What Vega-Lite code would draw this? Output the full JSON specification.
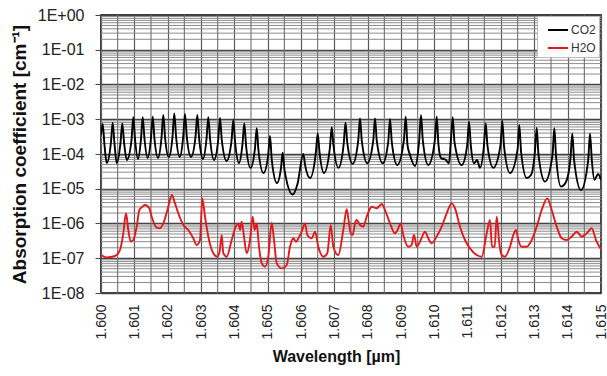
{
  "$schema": "https://vega.github.io/schema/vega-lite/v6.json",
  "width": 500,
  "height": 278,
  "autosize": {"type": "none"},
  "padding": {"left": 101, "top": 15, "right": 6, "bottom": 83},
  "background": "white",
  "config": {
    "font": "Liberation Sans",
    "view": {"stroke": "black", "strokeWidth": 1.5},
    "axis": {"domain": false}
  },
  "datasets": {
    "ygrid": [
      {"coef": 2e-8}, {"coef": 3e-8}, {"coef": 4e-8}, {"coef": 5e-8}, {"coef": 6e-8}, {"coef": 7e-8}, {"coef": 8e-8}, {"coef": 9e-8},
      {"coef": 2e-7}, {"coef": 3e-7}, {"coef": 4e-7}, {"coef": 5e-7}, {"coef": 6e-7}, {"coef": 7e-7}, {"coef": 8e-7}, {"coef": 9e-7},
      {"coef": 2e-6}, {"coef": 3e-6}, {"coef": 4e-6}, {"coef": 5e-6}, {"coef": 6e-6}, {"coef": 7e-6}, {"coef": 8e-6}, {"coef": 9e-6},
      {"coef": 2e-5}, {"coef": 3e-5}, {"coef": 4e-5}, {"coef": 5e-5}, {"coef": 6e-5}, {"coef": 7e-5}, {"coef": 8e-5}, {"coef": 9e-5},
      {"coef": 2e-4}, {"coef": 3e-4}, {"coef": 4e-4}, {"coef": 5e-4}, {"coef": 6e-4}, {"coef": 7e-4}, {"coef": 8e-4}, {"coef": 9e-4},
      {"coef": 2e-3}, {"coef": 3e-3}, {"coef": 4e-3}, {"coef": 5e-3}, {"coef": 6e-3}, {"coef": 7e-3}, {"coef": 8e-3}, {"coef": 9e-3},
      {"coef": 2e-2}, {"coef": 3e-2}, {"coef": 4e-2}, {"coef": 5e-2}, {"coef": 6e-2}, {"coef": 7e-2}, {"coef": 8e-2}, {"coef": 9e-2},
      {"coef": 2e-1}, {"coef": 3e-1}, {"coef": 4e-1}, {"coef": 5e-1}, {"coef": 6e-1}, {"coef": 7e-1}, {"coef": 8e-1}, {"coef": 9e-1}
    ],
    "xgrid": [
      {"wavelength": 1.6005}, {"wavelength": 1.6015}, {"wavelength": 1.6025}, {"wavelength": 1.6035}, {"wavelength": 1.6045},
      {"wavelength": 1.6055}, {"wavelength": 1.6065}, {"wavelength": 1.6075}, {"wavelength": 1.6085}, {"wavelength": 1.6095},
      {"wavelength": 1.6105}, {"wavelength": 1.6115}, {"wavelength": 1.6125}, {"wavelength": 1.6135}, {"wavelength": 1.6145}
    ],
    "spectra": [
      {"gas": "CO2", "wavelength": 1.600000, "coef": 3.5e-4},
      {"gas": "CO2", "wavelength": 1.600051, "coef": 7.3e-4},
      {"gas": "CO2", "wavelength": 1.600105, "coef": 1.8e-4},
      {"gas": "CO2", "wavelength": 1.600171, "coef": 5.5e-5},
      {"gas": "CO2", "wavelength": 1.600297, "coef": 2.1e-4},
      {"gas": "CO2", "wavelength": 1.600351, "coef": 7.9e-4},
      {"gas": "CO2", "wavelength": 1.600405, "coef": 1.95e-4},
      {"gas": "CO2", "wavelength": 1.600471, "coef": 5.5e-5},
      {"gas": "CO2", "wavelength": 1.600585, "coef": 2.1e-4},
      {"gas": "CO2", "wavelength": 1.600639, "coef": 7.6e-4},
      {"gas": "CO2", "wavelength": 1.600693, "coef": 2.1e-4},
      {"gas": "CO2", "wavelength": 1.600774, "coef": 6.7e-5},
      {"gas": "CO2", "wavelength": 1.600915, "coef": 2.5e-4},
      {"gas": "CO2", "wavelength": 1.600969, "coef": 1.14e-3},
      {"gas": "CO2", "wavelength": 1.601023, "coef": 2.5e-4},
      {"gas": "CO2", "wavelength": 1.601110, "coef": 7.2e-5},
      {"gas": "CO2", "wavelength": 1.601197, "coef": 2.5e-4},
      {"gas": "CO2", "wavelength": 1.601251, "coef": 1.14e-3},
      {"gas": "CO2", "wavelength": 1.601305, "coef": 2.7e-4},
      {"gas": "CO2", "wavelength": 1.601398, "coef": 7.7e-5},
      {"gas": "CO2", "wavelength": 1.601497, "coef": 2.7e-4},
      {"gas": "CO2", "wavelength": 1.601551, "coef": 1.18e-3},
      {"gas": "CO2", "wavelength": 1.601605, "coef": 2.7e-4},
      {"gas": "CO2", "wavelength": 1.601710, "coef": 7.7e-5},
      {"gas": "CO2", "wavelength": 1.601815, "coef": 2.9e-4},
      {"gas": "CO2", "wavelength": 1.601869, "coef": 1.32e-3},
      {"gas": "CO2", "wavelength": 1.601923, "coef": 2.9e-4},
      {"gas": "CO2", "wavelength": 1.602034, "coef": 8.2e-5},
      {"gas": "CO2", "wavelength": 1.602145, "coef": 3.1e-4},
      {"gas": "CO2", "wavelength": 1.602199, "coef": 1.48e-3},
      {"gas": "CO2", "wavelength": 1.602253, "coef": 3.1e-4},
      {"gas": "CO2", "wavelength": 1.602361, "coef": 8.2e-5},
      {"gas": "CO2", "wavelength": 1.602466, "coef": 3.1e-4},
      {"gas": "CO2", "wavelength": 1.602520, "coef": 1.42e-3},
      {"gas": "CO2", "wavelength": 1.602574, "coef": 3.1e-4},
      {"gas": "CO2", "wavelength": 1.602700, "coef": 8.2e-5},
      {"gas": "CO2", "wavelength": 1.602835, "coef": 3.1e-4},
      {"gas": "CO2", "wavelength": 1.602889, "coef": 1.32e-3},
      {"gas": "CO2", "wavelength": 1.602943, "coef": 2.9e-4},
      {"gas": "CO2", "wavelength": 1.603060, "coef": 7.2e-5},
      {"gas": "CO2", "wavelength": 1.603165, "coef": 2.7e-4},
      {"gas": "CO2", "wavelength": 1.603219, "coef": 1.14e-3},
      {"gas": "CO2", "wavelength": 1.603273, "coef": 2.7e-4},
      {"gas": "CO2", "wavelength": 1.603390, "coef": 6.7e-5},
      {"gas": "CO2", "wavelength": 1.603516, "coef": 2.5e-4},
      {"gas": "CO2", "wavelength": 1.603570, "coef": 1.09e-3},
      {"gas": "CO2", "wavelength": 1.603624, "coef": 2.5e-4},
      {"gas": "CO2", "wavelength": 1.603768, "coef": 6.3e-5},
      {"gas": "CO2", "wavelength": 1.603915, "coef": 2.37e-4},
      {"gas": "CO2", "wavelength": 1.603969, "coef": 9.5e-4},
      {"gas": "CO2", "wavelength": 1.604023, "coef": 2.2e-4},
      {"gas": "CO2", "wavelength": 1.604140, "coef": 5.5e-5},
      {"gas": "CO2", "wavelength": 1.604245, "coef": 1.95e-4},
      {"gas": "CO2", "wavelength": 1.604299, "coef": 7.6e-4},
      {"gas": "CO2", "wavelength": 1.604353, "coef": 1.7e-4},
      {"gas": "CO2", "wavelength": 1.604485, "coef": 4.0e-5},
      {"gas": "CO2", "wavelength": 1.604617, "coef": 1.39e-4},
      {"gas": "CO2", "wavelength": 1.604671, "coef": 5.5e-4},
      {"gas": "CO2", "wavelength": 1.604725, "coef": 1.22e-4},
      {"gas": "CO2", "wavelength": 1.604875, "coef": 2.84e-5},
      {"gas": "CO2", "wavelength": 1.605016, "coef": 9.3e-5},
      {"gas": "CO2", "wavelength": 1.605070, "coef": 3.3e-4},
      {"gas": "CO2", "wavelength": 1.605124, "coef": 6.7e-5},
      {"gas": "CO2", "wavelength": 1.605280, "coef": 1.46e-5},
      {"gas": "CO2", "wavelength": 1.605400, "coef": 4.0e-5},
      {"gas": "CO2", "wavelength": 1.605451, "coef": 1.09e-4},
      {"gas": "CO2", "wavelength": 1.605505, "coef": 3.5e-5},
      {"gas": "CO2", "wavelength": 1.605751, "coef": 6.8e-6},
      {"gas": "CO2", "wavelength": 1.605895, "coef": 1.37e-5},
      {"gas": "CO2", "wavelength": 1.606069, "coef": 1.0e-4},
      {"gas": "CO2", "wavelength": 1.606123, "coef": 4.8e-5},
      {"gas": "CO2", "wavelength": 1.606270, "coef": 2.04e-5},
      {"gas": "CO2", "wavelength": 1.606447, "coef": 1.14e-4},
      {"gas": "CO2", "wavelength": 1.606501, "coef": 3.9e-4},
      {"gas": "CO2", "wavelength": 1.606555, "coef": 1.14e-4},
      {"gas": "CO2", "wavelength": 1.606690, "coef": 2.84e-5},
      {"gas": "CO2", "wavelength": 1.606867, "coef": 1.49e-4},
      {"gas": "CO2", "wavelength": 1.606921, "coef": 5.9e-4},
      {"gas": "CO2", "wavelength": 1.606975, "coef": 1.7e-4},
      {"gas": "CO2", "wavelength": 1.607125, "coef": 4.0e-5},
      {"gas": "CO2", "wavelength": 1.607281, "coef": 1.95e-4},
      {"gas": "CO2", "wavelength": 1.607335, "coef": 7.9e-4},
      {"gas": "CO2", "wavelength": 1.607389, "coef": 2.1e-4},
      {"gas": "CO2", "wavelength": 1.607551, "coef": 5.2e-5},
      {"gas": "CO2", "wavelength": 1.607716, "coef": 2.37e-4},
      {"gas": "CO2", "wavelength": 1.607770, "coef": 1.06e-3},
      {"gas": "CO2", "wavelength": 1.607824, "coef": 2.37e-4},
      {"gas": "CO2", "wavelength": 1.607989, "coef": 5.4e-5},
      {"gas": "CO2", "wavelength": 1.608166, "coef": 2.37e-4},
      {"gas": "CO2", "wavelength": 1.608220, "coef": 1.06e-3},
      {"gas": "CO2", "wavelength": 1.608274, "coef": 2.37e-4},
      {"gas": "CO2", "wavelength": 1.608451, "coef": 5.4e-5},
      {"gas": "CO2", "wavelength": 1.608616, "coef": 2.2e-4},
      {"gas": "CO2", "wavelength": 1.608670, "coef": 1.02e-3},
      {"gas": "CO2", "wavelength": 1.608724, "coef": 2.2e-4},
      {"gas": "CO2", "wavelength": 1.608889, "coef": 4.8e-5},
      {"gas": "CO2", "wavelength": 1.609087, "coef": 2.5e-4},
      {"gas": "CO2", "wavelength": 1.609141, "coef": 1.18e-3},
      {"gas": "CO2", "wavelength": 1.609195, "coef": 1.8e-4},
      {"gas": "CO2", "wavelength": 1.609270, "coef": 9.4e-5},
      {"gas": "CO2", "wavelength": 1.609420, "coef": 4.5e-5},
      {"gas": "CO2", "wavelength": 1.609546, "coef": 2.5e-4},
      {"gas": "CO2", "wavelength": 1.609600, "coef": 1.32e-3},
      {"gas": "CO2", "wavelength": 1.609654, "coef": 2.5e-4},
      {"gas": "CO2", "wavelength": 1.609819, "coef": 4.8e-5},
      {"gas": "CO2", "wavelength": 1.610017, "coef": 2.5e-4},
      {"gas": "CO2", "wavelength": 1.610071, "coef": 1.18e-3},
      {"gas": "CO2", "wavelength": 1.610125, "coef": 1.8e-4},
      {"gas": "CO2", "wavelength": 1.610200, "coef": 7.7e-5},
      {"gas": "CO2", "wavelength": 1.610350, "coef": 6.7e-5},
      {"gas": "CO2", "wavelength": 1.610440, "coef": 5.4e-5},
      {"gas": "CO2", "wavelength": 1.610497, "coef": 2.5e-4},
      {"gas": "CO2", "wavelength": 1.610551, "coef": 1.14e-3},
      {"gas": "CO2", "wavelength": 1.610605, "coef": 2.2e-4},
      {"gas": "CO2", "wavelength": 1.610821, "coef": 4.8e-5},
      {"gas": "CO2", "wavelength": 1.610986, "coef": 1.8e-4},
      {"gas": "CO2", "wavelength": 1.611040, "coef": 8.5e-4},
      {"gas": "CO2", "wavelength": 1.611094, "coef": 1.8e-4},
      {"gas": "CO2", "wavelength": 1.611190, "coef": 5.4e-5},
      {"gas": "CO2", "wavelength": 1.611280, "coef": 6.7e-5},
      {"gas": "CO2", "wavelength": 1.611370, "coef": 4.0e-5},
      {"gas": "CO2", "wavelength": 1.611487, "coef": 1.7e-4},
      {"gas": "CO2", "wavelength": 1.611541, "coef": 7.6e-4},
      {"gas": "CO2", "wavelength": 1.611595, "coef": 1.7e-4},
      {"gas": "CO2", "wavelength": 1.611769, "coef": 4.0e-5},
      {"gas": "CO2", "wavelength": 1.611985, "coef": 1.8e-4},
      {"gas": "CO2", "wavelength": 1.612039, "coef": 9.1e-4},
      {"gas": "CO2", "wavelength": 1.612093, "coef": 1.6e-4},
      {"gas": "CO2", "wavelength": 1.612270, "coef": 2.84e-5},
      {"gas": "CO2", "wavelength": 1.612495, "coef": 1.3e-4},
      {"gas": "CO2", "wavelength": 1.612549, "coef": 6.8e-4},
      {"gas": "CO2", "wavelength": 1.612603, "coef": 1.14e-4},
      {"gas": "CO2", "wavelength": 1.612771, "coef": 2.04e-5},
      {"gas": "CO2", "wavelength": 1.612900, "coef": 2.5e-5},
      {"gas": "CO2", "wavelength": 1.613017, "coef": 1.14e-4},
      {"gas": "CO2", "wavelength": 1.613071, "coef": 5.7e-4},
      {"gas": "CO2", "wavelength": 1.613125, "coef": 9.4e-5},
      {"gas": "CO2", "wavelength": 1.613320, "coef": 1.6e-5},
      {"gas": "CO2", "wavelength": 1.613545, "coef": 9.4e-5},
      {"gas": "CO2", "wavelength": 1.613599, "coef": 5.5e-4},
      {"gas": "CO2", "wavelength": 1.613653, "coef": 8.2e-5},
      {"gas": "CO2", "wavelength": 1.613800, "coef": 1.15e-5},
      {"gas": "CO2", "wavelength": 1.613950, "coef": 1.56e-5},
      {"gas": "CO2", "wavelength": 1.614085, "coef": 7.7e-5},
      {"gas": "CO2", "wavelength": 1.614139, "coef": 3.9e-4},
      {"gas": "CO2", "wavelength": 1.614193, "coef": 6.7e-5},
      {"gas": "CO2", "wavelength": 1.614400, "coef": 9.2e-6},
      {"gas": "CO2", "wavelength": 1.614616, "coef": 6.7e-5},
      {"gas": "CO2", "wavelength": 1.614670, "coef": 3.9e-4},
      {"gas": "CO2", "wavelength": 1.614724, "coef": 6.7e-5},
      {"gas": "CO2", "wavelength": 1.614805, "coef": 1.8e-5},
      {"gas": "CO2", "wavelength": 1.614910, "coef": 2.65e-5},
      {"gas": "CO2", "wavelength": 1.615000, "coef": 1.8e-5},
      {"gas": "H2O", "wavelength": 1.600000, "coef": 1.24e-7},
      {"gas": "H2O", "wavelength": 1.600171, "coef": 1.06e-7},
      {"gas": "H2O", "wavelength": 1.600420, "coef": 1.16e-7},
      {"gas": "H2O", "wavelength": 1.600570, "coef": 1.73e-7},
      {"gas": "H2O", "wavelength": 1.600669, "coef": 5.2e-7},
      {"gas": "H2O", "wavelength": 1.600750, "coef": 1.97e-6},
      {"gas": "H2O", "wavelength": 1.600819, "coef": 6.5e-7},
      {"gas": "H2O", "wavelength": 1.600891, "coef": 3.0e-7},
      {"gas": "H2O", "wavelength": 1.600969, "coef": 3.35e-7},
      {"gas": "H2O", "wavelength": 1.601071, "coef": 8.1e-7},
      {"gas": "H2O", "wavelength": 1.601149, "coef": 2.44e-6},
      {"gas": "H2O", "wavelength": 1.601221, "coef": 2.92e-6},
      {"gas": "H2O", "wavelength": 1.601320, "coef": 3.4e-6},
      {"gas": "H2O", "wavelength": 1.601449, "coef": 2.74e-6},
      {"gas": "H2O", "wavelength": 1.601521, "coef": 1.57e-6},
      {"gas": "H2O", "wavelength": 1.601671, "coef": 7.6e-7},
      {"gas": "H2O", "wavelength": 1.601770, "coef": 7.3e-7},
      {"gas": "H2O", "wavelength": 1.601890, "coef": 1.13e-6},
      {"gas": "H2O", "wavelength": 1.602019, "coef": 3.04e-6},
      {"gas": "H2O", "wavelength": 1.602121, "coef": 6.6e-6},
      {"gas": "H2O", "wavelength": 1.602220, "coef": 3.8e-6},
      {"gas": "H2O", "wavelength": 1.602319, "coef": 1.97e-6},
      {"gas": "H2O", "wavelength": 1.602469, "coef": 9.05e-7},
      {"gas": "H2O", "wavelength": 1.602619, "coef": 6.5e-7},
      {"gas": "H2O", "wavelength": 1.602769, "coef": 3.75e-7},
      {"gas": "H2O", "wavelength": 1.602871, "coef": 2.4e-7},
      {"gas": "H2O", "wavelength": 1.602970, "coef": 3.35e-7},
      {"gas": "H2O", "wavelength": 1.603039, "coef": 5.3e-6},
      {"gas": "H2O", "wavelength": 1.603120, "coef": 1.57e-6},
      {"gas": "H2O", "wavelength": 1.603219, "coef": 4.2e-7},
      {"gas": "H2O", "wavelength": 1.603369, "coef": 1.39e-7},
      {"gas": "H2O", "wavelength": 1.603489, "coef": 1.11e-7},
      {"gas": "H2O", "wavelength": 1.603555, "coef": 1.51e-7},
      {"gas": "H2O", "wavelength": 1.603621, "coef": 4.67e-7},
      {"gas": "H2O", "wavelength": 1.603669, "coef": 1.39e-7},
      {"gas": "H2O", "wavelength": 1.603771, "coef": 1.11e-7},
      {"gas": "H2O", "wavelength": 1.603921, "coef": 3.35e-7},
      {"gas": "H2O", "wavelength": 1.604041, "coef": 8.1e-7},
      {"gas": "H2O", "wavelength": 1.604119, "coef": 1.01e-6},
      {"gas": "H2O", "wavelength": 1.604170, "coef": 6.5e-7},
      {"gas": "H2O", "wavelength": 1.604221, "coef": 1.13e-6},
      {"gas": "H2O", "wavelength": 1.604290, "coef": 4.2e-7},
      {"gas": "H2O", "wavelength": 1.604371, "coef": 1.39e-7},
      {"gas": "H2O", "wavelength": 1.604470, "coef": 3.35e-7},
      {"gas": "H2O", "wavelength": 1.604551, "coef": 1.57e-6},
      {"gas": "H2O", "wavelength": 1.604611, "coef": 6.5e-7},
      {"gas": "H2O", "wavelength": 1.604671, "coef": 1.01e-6},
      {"gas": "H2O", "wavelength": 1.604740, "coef": 2.15e-7},
      {"gas": "H2O", "wavelength": 1.604821, "coef": 7.2e-8},
      {"gas": "H2O", "wavelength": 1.604920, "coef": 5.7e-8},
      {"gas": "H2O", "wavelength": 1.605019, "coef": 1.11e-7},
      {"gas": "H2O", "wavelength": 1.605121, "coef": 1.05e-6},
      {"gas": "H2O", "wavelength": 1.605190, "coef": 3.35e-7},
      {"gas": "H2O", "wavelength": 1.605271, "coef": 7.2e-8},
      {"gas": "H2O", "wavelength": 1.605421, "coef": 5.1e-8},
      {"gas": "H2O", "wavelength": 1.605571, "coef": 6.4e-8},
      {"gas": "H2O", "wavelength": 1.605670, "coef": 2.15e-7},
      {"gas": "H2O", "wavelength": 1.605769, "coef": 3.75e-7},
      {"gas": "H2O", "wavelength": 1.605850, "coef": 3.0e-7},
      {"gas": "H2O", "wavelength": 1.605949, "coef": 4.2e-7},
      {"gas": "H2O", "wavelength": 1.606021, "coef": 5.8e-7},
      {"gas": "H2O", "wavelength": 1.606120, "coef": 1.01e-6},
      {"gas": "H2O", "wavelength": 1.606189, "coef": 4.67e-7},
      {"gas": "H2O", "wavelength": 1.606321, "coef": 3.75e-7},
      {"gas": "H2O", "wavelength": 1.606420, "coef": 5.8e-7},
      {"gas": "H2O", "wavelength": 1.606519, "coef": 2.15e-7},
      {"gas": "H2O", "wavelength": 1.606669, "coef": 1.11e-7},
      {"gas": "H2O", "wavelength": 1.606789, "coef": 1.39e-7},
      {"gas": "H2O", "wavelength": 1.606891, "coef": 9.05e-7},
      {"gas": "H2O", "wavelength": 1.606969, "coef": 2.15e-7},
      {"gas": "H2O", "wavelength": 1.607119, "coef": 1.24e-7},
      {"gas": "H2O", "wavelength": 1.607269, "coef": 6.5e-7},
      {"gas": "H2O", "wavelength": 1.607371, "coef": 2.56e-6},
      {"gas": "H2O", "wavelength": 1.607425, "coef": 1.26e-6},
      {"gas": "H2O", "wavelength": 1.607491, "coef": 5.2e-7},
      {"gas": "H2O", "wavelength": 1.607551, "coef": 4.67e-7},
      {"gas": "H2O", "wavelength": 1.607620, "coef": 1.01e-6},
      {"gas": "H2O", "wavelength": 1.607671, "coef": 1.26e-6},
      {"gas": "H2O", "wavelength": 1.607770, "coef": 9.05e-7},
      {"gas": "H2O", "wavelength": 1.607869, "coef": 8.1e-7},
      {"gas": "H2O", "wavelength": 1.607971, "coef": 1.57e-6},
      {"gas": "H2O", "wavelength": 1.608121, "coef": 3.04e-6},
      {"gas": "H2O", "wavelength": 1.608271, "coef": 2.74e-6},
      {"gas": "H2O", "wavelength": 1.608421, "coef": 3.64e-6},
      {"gas": "H2O", "wavelength": 1.608520, "coef": 2.44e-6},
      {"gas": "H2O", "wavelength": 1.608670, "coef": 1.01e-6},
      {"gas": "H2O", "wavelength": 1.608820, "coef": 5.2e-7},
      {"gas": "H2O", "wavelength": 1.608895, "coef": 6.5e-7},
      {"gas": "H2O", "wavelength": 1.608991, "coef": 1.01e-6},
      {"gas": "H2O", "wavelength": 1.609069, "coef": 4.67e-7},
      {"gas": "H2O", "wavelength": 1.609219, "coef": 2.15e-7},
      {"gas": "H2O", "wavelength": 1.609315, "coef": 2.4e-7},
      {"gas": "H2O", "wavelength": 1.609390, "coef": 4.67e-7},
      {"gas": "H2O", "wavelength": 1.609471, "coef": 2.15e-7},
      {"gas": "H2O", "wavelength": 1.609591, "coef": 3.35e-7},
      {"gas": "H2O", "wavelength": 1.609720, "coef": 5.8e-7},
      {"gas": "H2O", "wavelength": 1.609819, "coef": 3.75e-7},
      {"gas": "H2O", "wavelength": 1.609921, "coef": 2.7e-7},
      {"gas": "H2O", "wavelength": 1.610071, "coef": 4.2e-7},
      {"gas": "H2O", "wavelength": 1.610221, "coef": 8.1e-7},
      {"gas": "H2O", "wavelength": 1.610371, "coef": 1.97e-6},
      {"gas": "H2O", "wavelength": 1.610521, "coef": 3.8e-6},
      {"gas": "H2O", "wavelength": 1.610620, "coef": 2.74e-6},
      {"gas": "H2O", "wavelength": 1.610770, "coef": 8.1e-7},
      {"gas": "H2O", "wavelength": 1.610920, "coef": 3.35e-7},
      {"gas": "H2O", "wavelength": 1.611070, "coef": 1.93e-7},
      {"gas": "H2O", "wavelength": 1.611271, "coef": 1.24e-7},
      {"gas": "H2O", "wavelength": 1.611421, "coef": 1.11e-7},
      {"gas": "H2O", "wavelength": 1.611571, "coef": 5.2e-7},
      {"gas": "H2O", "wavelength": 1.611670, "coef": 1.26e-6},
      {"gas": "H2O", "wavelength": 1.611730, "coef": 2.15e-7},
      {"gas": "H2O", "wavelength": 1.611811, "coef": 2.15e-7},
      {"gas": "H2O", "wavelength": 1.611871, "coef": 1.57e-6},
      {"gas": "H2O", "wavelength": 1.611949, "coef": 2.7e-7},
      {"gas": "H2O", "wavelength": 1.612021, "coef": 1.24e-7},
      {"gas": "H2O", "wavelength": 1.612120, "coef": 1.11e-7},
      {"gas": "H2O", "wavelength": 1.612270, "coef": 2.15e-7},
      {"gas": "H2O", "wavelength": 1.612369, "coef": 4.67e-7},
      {"gas": "H2O", "wavelength": 1.612450, "coef": 6.5e-7},
      {"gas": "H2O", "wavelength": 1.612519, "coef": 3.35e-7},
      {"gas": "H2O", "wavelength": 1.612621, "coef": 2.15e-7},
      {"gas": "H2O", "wavelength": 1.612771, "coef": 2.15e-7},
      {"gas": "H2O", "wavelength": 1.612921, "coef": 3.35e-7},
      {"gas": "H2O", "wavelength": 1.613071, "coef": 8.1e-7},
      {"gas": "H2O", "wavelength": 1.613221, "coef": 2.44e-6},
      {"gas": "H2O", "wavelength": 1.613389, "coef": 5.3e-6},
      {"gas": "H2O", "wavelength": 1.613521, "coef": 2.44e-6},
      {"gas": "H2O", "wavelength": 1.613671, "coef": 8.1e-7},
      {"gas": "H2O", "wavelength": 1.613821, "coef": 3.75e-7},
      {"gas": "H2O", "wavelength": 1.613971, "coef": 3.35e-7},
      {"gas": "H2O", "wavelength": 1.614121, "coef": 4.2e-7},
      {"gas": "H2O", "wavelength": 1.614271, "coef": 5.8e-7},
      {"gas": "H2O", "wavelength": 1.614421, "coef": 4.2e-7},
      {"gas": "H2O", "wavelength": 1.614571, "coef": 5.2e-7},
      {"gas": "H2O", "wavelength": 1.614721, "coef": 7.3e-7},
      {"gas": "H2O", "wavelength": 1.614850, "coef": 3.35e-7},
      {"gas": "H2O", "wavelength": 1.615000, "coef": 1.81e-7}
    ]
  },
  "layer": [
    {
      "data": {"name": "ygrid"},
      "mark": {"type": "rule", "color": "#8c8c8c", "strokeWidth": 1},
      "encoding": {
        "y": {
          "field": "coef", "type": "quantitative",
          "scale": {"type": "log", "domain": [1e-8, 1], "nice": false},
          "title": "Absorption coefficient [cm⁻¹]",
          "axis": {
            "values": [1e-8, 1e-7, 1e-6, 1e-5, 1e-4, 1e-3, 1e-2, 1e-1, 1],
            "labelExpr": "'1E' + (round(log(datum.value)/LN10) >= 0 ? '+' : '-') + (abs(round(log(datum.value)/LN10)) < 10 ? '0' : '') + abs(round(log(datum.value)/LN10))",
            "labelFontSize": 16, "labelColor": "#222", "labelPadding": 11, "tickSize": 6, "tickColor": "#444",
            "grid": true, "gridColor": "#444444", "gridWidth": 1.4,
            "titleFontSize": 19, "titleFontWeight": "bold", "titleColor": "#111", "titlePadding": 8,
            "labelFlush": false, "labelOverlap": false
          }
        }
      }
    },
    {
      "data": {"name": "xgrid"},
      "mark": {"type": "rule", "color": "#6e6e6e", "strokeWidth": 1.1},
      "encoding": {
        "x": {
          "field": "wavelength", "type": "quantitative",
          "scale": {"domain": [1.6, 1.615], "nice": false, "zero": false},
          "title": "Wavelength [µm]",
          "axis": {
            "values": [1.6, 1.601, 1.602, 1.603, 1.604, 1.605, 1.606, 1.607, 1.608, 1.609, 1.61, 1.611, 1.612, 1.613, 1.614, 1.615],
            "format": ".3f", "labelAngle": 270, "labelAlign": "right", "labelBaseline": "middle",
            "labelFontSize": 14, "labelColor": "#222", "labelPadding": 11, "ticks": false,
            "grid": true, "gridColor": "#5a5a5a", "gridWidth": 1.2,
            "titleFontSize": 16, "titleFontWeight": "bold", "titleColor": "#111", "titlePadding": 9, "titleX": 235,
            "labelFlush": false, "labelOverlap": false
          }
        }
      }
    },
    {
      "data": {"name": "spectra"},
      "mark": {"type": "line", "strokeWidth": 1.9, "clip": true, "interpolate": "monotone"},
      "encoding": {
        "x": {
          "field": "wavelength", "type": "quantitative",
          "scale": {"domain": [1.6, 1.615], "nice": false, "zero": false},
          "title": "Wavelength [µm]",
          "axis": {
            "values": [1.6, 1.601, 1.602, 1.603, 1.604, 1.605, 1.606, 1.607, 1.608, 1.609, 1.61, 1.611, 1.612, 1.613, 1.614, 1.615],
            "format": ".3f", "labelAngle": 270, "labelAlign": "right", "labelBaseline": "middle",
            "labelFontSize": 14, "labelColor": "#222", "labelPadding": 11, "ticks": false,
            "grid": true, "gridColor": "#5a5a5a", "gridWidth": 1.2,
            "titleFontSize": 16, "titleFontWeight": "bold", "titleColor": "#111", "titlePadding": 9, "titleX": 235,
            "labelFlush": false, "labelOverlap": false
          }
        },
        "y": {
          "field": "coef", "type": "quantitative",
          "scale": {"type": "log", "domain": [1e-8, 1], "nice": false},
          "title": "Absorption coefficient [cm⁻¹]",
          "axis": {
            "values": [1e-8, 1e-7, 1e-6, 1e-5, 1e-4, 1e-3, 1e-2, 1e-1, 1],
            "labelExpr": "'1E' + (round(log(datum.value)/LN10) >= 0 ? '+' : '-') + (abs(round(log(datum.value)/LN10)) < 10 ? '0' : '') + abs(round(log(datum.value)/LN10))",
            "labelFontSize": 16, "labelColor": "#222", "labelPadding": 11, "tickSize": 6, "tickColor": "#444",
            "grid": true, "gridColor": "#444444", "gridWidth": 1.4,
            "titleFontSize": 19, "titleFontWeight": "bold", "titleColor": "#111", "titlePadding": 8,
            "labelFlush": false, "labelOverlap": false
          }
        },
        "color": {
          "field": "gas", "type": "nominal",
          "scale": {"domain": ["CO2", "H2O"], "range": ["#000000", "#e31a1c"]},
          "legend": {
            "title": null, "orient": "none", "legendX": 436, "legendY": 1,
            "symbolType": "stroke", "symbolSize": 400, "symbolStrokeWidth": 2, "symbolOffset": 7,
            "labelFontSize": 12, "labelColor": "#333", "labelOffset": 2, "rowPadding": 1,
            "fillColor": "white", "strokeColor": "#bbbbbb", "padding": 3
          }
        }
      }
    }
  ]
}
